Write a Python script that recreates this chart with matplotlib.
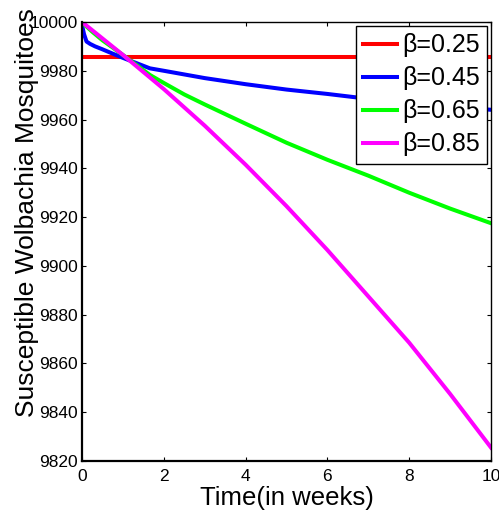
import matplotlib
matplotlib.use("Agg")
import matplotlib.pyplot as plt

plt.rcParams['font.family'] = ['Liberation Sans', 'DejaVu Sans']

t_red = [0, 10]
s_red = [9985.8, 9985.8]

t_blue = [0, 0.05, 0.11, 0.2, 0.32, 0.5, 0.64, 1, 1.66, 2, 3, 4, 5, 6, 7, 8, 9, 10]
s_blue = [9998.8, 9995, 9992, 9991, 9990, 9988.8, 9987.8, 9985.3, 9981, 9980, 9977,
          9974.5, 9972.3, 9970.5, 9968.5, 9967, 9965.5, 9964]

t_green = [0, 0.25, 0.5, 1, 1.66, 2, 2.5, 3, 4, 5, 6, 7, 8, 9, 10]
s_green = [9999.8, 9996, 9992.5, 9986.5, 9978.3, 9975, 9970.3, 9966.2, 9958.3, 9950.5,
           9943.5, 9937, 9930, 9923.5, 9917.5]

t_mag = [0, 1, 2, 3, 4, 5, 6, 7, 8, 9, 10]
s_mag = [10000, 9986.5, 9972.5, 9957.5, 9941.5, 9924.5, 9906.5, 9887.5, 9868.5, 9847.5, 9825.5]

labels = ['β=0.25', 'β=0.45', 'β=0.65', 'β=0.85']
colors = ['#ff0000', '#0000ff', '#00ff00', '#ff00ff']

x_ticks = [0, 2, 4, 6, 8, 10]
y_ticks = [9820, 9840, 9860, 9880, 9900, 9920, 9940, 9960, 9980, 10000]

fig = plt.figure(figsize=(4.99, 5.15), dpi=100)
ax = fig.add_axes([82/499, 54/515, 409/499, 439/515])

for (t, s), lab, c in zip([(t_red, s_red), (t_blue, s_blue), (t_green, s_green), (t_mag, s_mag)],
                          labels, colors):
    ax.plot(t, s, color=c, lw=2.9, label=lab)

ax.set_xlim(0, 10)
ax.set_ylim(9820, 10000)
ax.set_xticks(x_ticks)
ax.set_yticks(y_ticks)
ax.tick_params(direction='in', top=True, right=True, length=3, width=0.8,
               labelsize=12.5)
ax.tick_params(axis='x', pad=6)
ax.tick_params(axis='y', pad=3)
for sp in ax.spines.values():
    sp.set_linewidth(1.0)
ax.spines['left'].set_linewidth(1.6)
ax.spines['bottom'].set_linewidth(1.6)

ax.set_xlabel('Time(in weeks)', fontsize=18.5)
ax.set_ylabel('Susceptible Wolbachia Mosquitoes', fontsize=19)
ax.xaxis.set_label_coords(0.5, -0.058)
ax.xaxis.label.set_va('top')
ax.yaxis.set_label_coords(-0.105, 0.567)

leg = ax.legend(loc='upper right', fontsize=18, frameon=True, fancybox=False,
                edgecolor='black', framealpha=1, borderaxespad=0.15,
                handlelength=1.35, labelspacing=0.36, handletextpad=0.2,
                borderpad=0.3)
leg.get_frame().set_linewidth(1.0)

fig.savefig('out.png', dpi=100)
